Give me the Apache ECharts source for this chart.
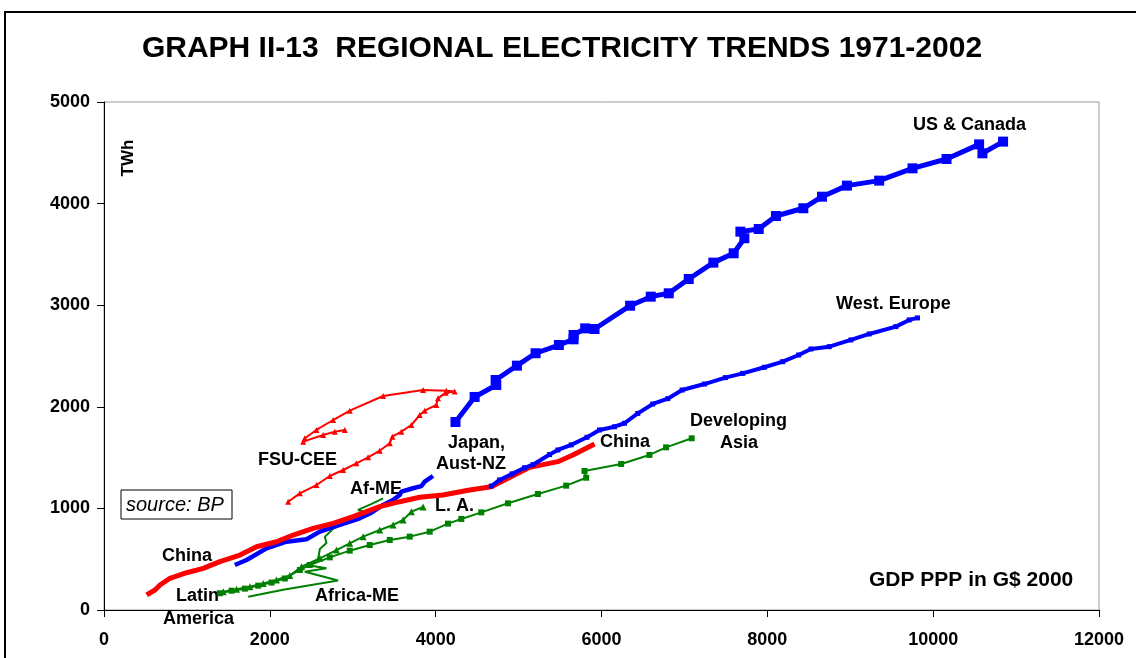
<!DOCTYPE html>
<html>
<head>
<meta charset="utf-8">
<script src="https://cdn.jsdelivr.net/npm/echarts@6/dist/echarts.min.js"></script>
<style>
  html, body { margin: 0; padding: 0; background: #fff; }
  #chart { width: 1136px; height: 658px; }
</style>
</head>
<body>
<div id="chart"></div>
<script>
// GDP PPP (G$ 2000) vs electricity (TWh), 1971-2002
var usCanada = [
  [4239, 1850], [4470, 2097], [4731, 2215], [4723, 2264], [4980, 2405], [5205, 2527],
  [5486, 2608], [5663, 2664], [5663, 2707], [5803, 2772], [5916, 2766], [6345, 2995],
  [6594, 3084], [6811, 3117], [7052, 3258], [7349, 3419], [7594, 3511], [7723, 3659],
  [7675, 3724], [7896, 3750], [8104, 3878], [8434, 3954], [8659, 4068], [8960, 4177],
  [9349, 4226], [9751, 4347], [10161, 4439], [10554, 4583], [10594, 4495], [10843, 4610]
];
var westEurope = [
  [4671, 1220], [4771, 1280], [4922, 1340], [5072, 1400], [5173, 1430], [5374, 1530],
  [5474, 1575], [5635, 1625], [5825, 1700], [5976, 1772], [6157, 1804], [6277, 1838],
  [6438, 1935], [6619, 2028], [6799, 2080], [6972, 2165], [7241, 2224], [7494, 2287],
  [7703, 2329], [7964, 2389], [8185, 2444], [8378, 2510], [8526, 2569], [8747, 2592],
  [9008, 2658], [9229, 2717], [9550, 2789], [9711, 2855], [9811, 2875]
];
var japanAustNz = [
  [1578, 443], [1719, 492], [1960, 607], [2201, 672], [2442, 696], [2603, 771],
  [2844, 837], [3084, 903], [3225, 958], [3366, 1034], [3486, 1083], [3566, 1132],
  [3586, 1165], [3727, 1198], [3827, 1220], [3868, 1263], [3968, 1319]
];
var china = [
  [514, 148], [615, 197], [675, 246], [795, 312], [996, 367], [1197, 410],
  [1398, 476], [1639, 541], [1840, 623], [2080, 672], [2281, 738], [2522, 804],
  [2763, 853], [3004, 919], [3325, 1017], [3566, 1066], [3807, 1110], [4088, 1132],
  [4410, 1181], [4671, 1214], [4872, 1296], [5133, 1404], [5474, 1460], [5655, 1526],
  [5916, 1634]
];
var fsuCee = [
  [2221, 1066], [2362, 1148], [2562, 1230], [2723, 1319], [2884, 1378], [3044, 1444],
  [3185, 1503], [3325, 1568], [3446, 1641], [3478, 1706], [3586, 1755], [3707, 1821],
  [3807, 1919], [3868, 1962], [4008, 2018], [4028, 2083], [4121, 2139], [4229, 2150],
  [4129, 2159], [3848, 2165], [3366, 2106], [2964, 1962], [2763, 1870], [2562, 1772],
  [2422, 1690], [2402, 1657], [2643, 1723], [2783, 1755], [2904, 1772]
];
var devAsia = [
  [1398, 165], [1538, 190], [1699, 210], [1860, 240], [2020, 270], [2181, 310],
  [2362, 394], [2482, 443], [2723, 518], [2964, 584], [3205, 640], [3446, 689],
  [3687, 722], [3928, 771], [4149, 850], [4309, 896], [4550, 961], [4872, 1050],
  [5233, 1142], [5574, 1224], [5815, 1302], [5795, 1368], [6237, 1437], [6578, 1526],
  [6779, 1601], [7088, 1690]
];
var latinAmerica = [
  [1438, 180], [1599, 205], [1759, 230], [1920, 262], [2080, 295], [2241, 340],
  [2382, 426], [2603, 509], [2803, 590], [2964, 656], [3125, 722], [3325, 787],
  [3486, 837], [3607, 886], [3707, 968], [3848, 1014]
];
var africaMe = [
  [1739, 131], [2161, 200], [2823, 290], [2422, 377], [2683, 410], [2462, 440],
  [2582, 500], [2603, 600], [2683, 660], [2663, 720], [2763, 800], [2964, 880],
  [3165, 960], [3064, 985], [3215, 1040], [3366, 1099]
];

var xTicks = [0, 2000, 4000, 6000, 8000, 10000, 12000];
var yTicks = [0, 1000, 2000, 3000, 4000, 5000];

var FONT = 'Arial, "Liberation Sans", sans-serif';

function seriesOf(name, data, color, width, symbol, size) {
  return {
    name: name,
    type: 'line',
    data: data,
    smooth: false,
    showSymbol: symbol !== 'none',
    symbol: symbol,
    symbolSize: size,
    lineStyle: { color: color, width: width },
    itemStyle: { color: color },
    animation: false
  };
}

// text placed by its left edge and vertical centre
function label(text, x, y, size, style) {
  return {
    type: 'text',
    x: x,
    y: y,
    style: {
      text: text,
      fill: '#000',
      verticalAlign: 'middle',
      align: 'left',
      font: (style || 'bold') + ' ' + size + 'px ' + FONT
    }
  };
}

var chart = echarts.init(document.getElementById('chart'));

var option = {
  backgroundColor: '#fff',
  grid: {
    left: 104, right: 37, top: 102, bottom: 48,
    show: true, borderColor: '#999', borderWidth: 1
  },
  xAxis: {
    type: 'value',
    min: xTicks[0], max: xTicks[xTicks.length - 1], interval: 2000,
    axisLine: { lineStyle: { color: '#000', width: 1 } },
    axisTick: { show: true, inside: false, length: 7, lineStyle: { color: '#000' } },
    axisLabel: {
      color: '#000', fontWeight: 'bold', fontSize: 18, fontFamily: FONT, margin: 21,
      formatter: function (v) { return String(v); }
    },
    splitLine: { show: false }
  },
  yAxis: {
    type: 'value',
    min: yTicks[0], max: yTicks[yTicks.length - 1], interval: 1000,
    axisLine: { show: true, lineStyle: { color: '#000', width: 1 } },
    axisTick: { show: true, length: 7, lineStyle: { color: '#000' } },
    axisLabel: {
      color: '#000', fontWeight: 'bold', fontSize: 18, fontFamily: FONT, margin: 14,
      formatter: function (v) { return String(v); }
    },
    splitLine: { show: false }
  },
  series: [
    seriesOf('Af-ME', africaMe, '#008000', 2, 'none', 0),
    seriesOf('Latin America', latinAmerica, '#008000', 2, 'triangle', 7),
    seriesOf('Developing Asia', devAsia, '#008000', 2, 'rect', 6),
    seriesOf('FSU-CEE', fsuCee, '#ff0000', 2, 'triangle', 6),
    seriesOf('Japan, Aust-NZ', japanAustNz, '#0000ff', 4.5, 'none', 0),
    seriesOf('China', china, '#ff0000', 5, 'none', 0),
    seriesOf('West. Europe', westEurope, '#0000ff', 4, 'rect', 5),
    seriesOf('US & Canada', usCanada, '#0000ff', 5, 'rect', 10)
  ],
  graphic: [
    {
      type: 'rect',
      shape: { x: 5, y: 12, width: 1200, height: 700 },
      style: { fill: 'none', stroke: '#000', lineWidth: 2 },
      silent: true
    },
    {
      type: 'text',
      x: 562,
      y: 49,
      style: {
        text: 'GRAPH II-13  REGIONAL ELECTRICITY TRENDS 1971-2002',
        fill: '#000',
        align: 'center',
        verticalAlign: 'middle',
        font: 'bold 30px ' + FONT
      }
    },
    {
      type: 'text',
      x: 128, y: 158,
      rotation: Math.PI / 2,
      style: {
        text: 'TWh', fill: '#000', align: 'center', verticalAlign: 'middle',
        font: 'bold 17px ' + FONT
      }
    },
    label('US & Canada', 913, 125, 18),
    label('West. Europe', 836, 304, 18),
    label('Developing', 690, 421, 18),
    label('Asia', 720, 443, 18),
    label('China', 600, 442, 18),
    label('Japan,', 448, 443, 18),
    label('Aust-NZ', 436, 464, 18),
    label('FSU-CEE', 258, 460, 18),
    label('Af-ME', 350, 489, 18),
    label('L. A.', 435, 506, 18),
    label('China', 162, 556, 18),
    label('Latin', 176, 596, 18),
    label('America', 163, 619, 18),
    label('Africa-ME', 315, 596, 18),
    label('GDP PPP in G$ 2000', 869, 580, 21),
    {
      type: 'rect',
      shape: { x: 121, y: 490, width: 111, height: 29 },
      style: { fill: '#fff', stroke: '#000', lineWidth: 1 }
    },
    label('source: BP', 126, 505, 20, 'italic')
  ]
};

chart.setOption(option);
</script>
</body>
</html>
